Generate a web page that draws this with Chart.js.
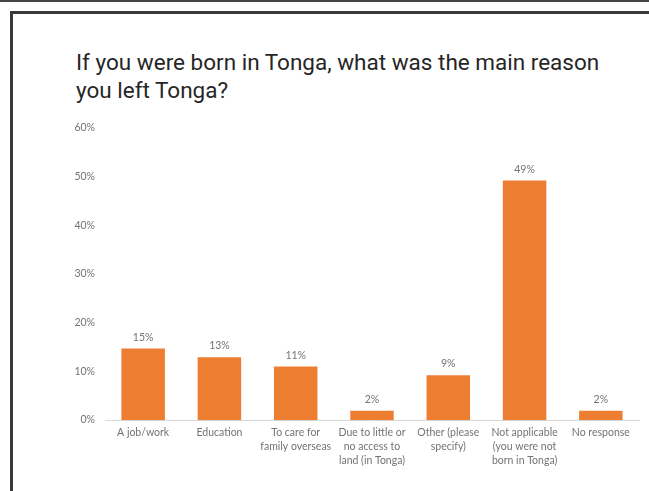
<!DOCTYPE html>
<html>
<head>
<meta charset="utf-8">
<script src="https://cdn.jsdelivr.net/npm/chart.js@4/dist/chart.umd.min.js"></script>
<style>
  html, body { margin: 0; padding: 0; background: #fff; overflow: hidden; }
  body { width: 649px; height: 491px; position: relative; }
  .topline { position: absolute; left: 0; top: 0; width: 649px; height: 2px; background: #444; }
  .frame { position: absolute; left: 10px; top: 11px; width: 700px; height: 600px;
           border: 3px solid #3a3a3a; box-sizing: border-box; }
  .title { position: absolute; left: 76px; top: 48px; font-family: Roboto, sans-serif;
           font-size: 22.5px; line-height: 28px; color: #262626; }
  .wrap { position: absolute; left: 0; top: 111px; width: 649px; height: 364px; }
</style>
</head>
<body>
<div class="topline"></div>
<div class="frame"></div>
<div class="title">If you were born in Tonga, what was the main reason<br>you left Tonga?</div>
<div class="wrap"><canvas id="chart"></canvas></div>
<script>
// ── Data ────────────────────────────────────────────
const categories = [
  "A job/work",
  "Education",
  ["To care for", "family overseas"],
  ["Due to little or", "no access to", "land (in Tonga)"],
  ["Other (please", "specify)"],
  ["Not applicable", "(you were not", "born in Tonga)"],
  "No response"
];
const shares = [14.7, 12.9, 11.0, 1.9, 9.2, 49.2, 1.9];
const yTicks = [0, 10, 20, 30, 40, 50, 60];

const labelColor = "#737373";
const tickFont = { family: "Lato, sans-serif", size: 10.5, lineHeight: 1.3 };

// small value-label plugin (no datalabels plugin available)
const valueLabels = {
  id: "valueLabels",
  afterDatasetsDraw(chart) {
    const ctx = chart.ctx;
    const meta = chart.getDatasetMeta(0);
    ctx.save();
    ctx.fillStyle = labelColor;
    ctx.font = "10.5px Lato, sans-serif";
    ctx.textAlign = "center";
    ctx.textBaseline = "bottom";
    meta.data.forEach((bar, i) => {
      ctx.fillText(Math.round(shares[i]) + "%", bar.x, bar.y - 6);
    });
    ctx.restore();
  }
};

new Chart(document.getElementById("chart"), {
  type: "bar",
  data: {
    labels: categories,
    datasets: [{
      data: shares,
      backgroundColor: "#ED7D31",
      categoryPercentage: 1,
      barPercentage: 0.57
    }]
  },
  options: {
    responsive: true,
    maintainAspectRatio: false,
    animation: false,
    layout: { padding: { top: 0, right: 10, left: 0, bottom: 0 } },
    plugins: {
      legend: { display: false },
      tooltip: { enabled: false }
    },
    scales: {
      x: {
        grid: { display: false, drawTicks: false },
        border: { display: true, color: "#d9d9d9", width: 1 },
        ticks: { color: labelColor, font: tickFont, padding: 6, maxRotation: 0, autoSkip: false },
        afterFit(scale) { scale.height = 55; }
      },
      y: {
        min: 0,
        max: 60,
        afterBuildTicks(scale) { scale.ticks = yTicks.map((v) => ({ value: v })); },
        grid: { display: false, drawTicks: false },
        border: { display: false },
        ticks: { color: labelColor, font: tickFont, padding: 10, callback: (v) => v + "%" },
        afterFit(scale) { scale.width = 105; }
      }
    }
  },
  plugins: [valueLabels]
});
</script>
</body>
</html>
